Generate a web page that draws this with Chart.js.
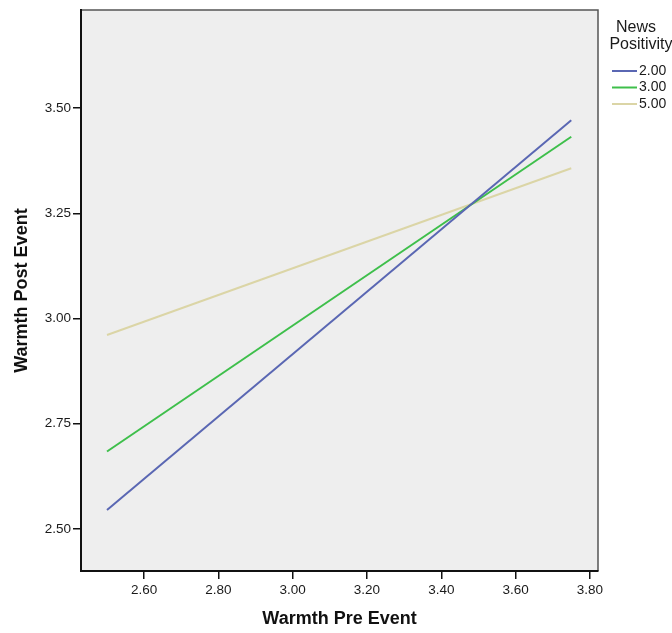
<!DOCTYPE html>
<html>
<head>
<meta charset="utf-8">
<script src="https://cdn.jsdelivr.net/npm/chart.js@4.4.0/dist/chart.umd.min.js"></script>
<style>
  html, body { margin: 0; padding: 0; background: #fff; }
  #wrap { width: 672px; height: 633px; }
</style>
</head>
<body>
<div id="wrap"><canvas id="chart"></canvas></div>
<script>
// values
const groups = ['2.00', '3.00', '5.00'];
const warmthPre = [2.50, 3.75];
const post200 = [2.545, 3.471];
const post300 = [2.684, 3.432];
const post500 = [2.961, 3.357];
const xTicks = [2.60, 2.80, 3.00, 3.20, 3.40, 3.60, 3.80];
const yTicks = [2.50, 2.75, 3.00, 3.25, 3.50];
const lineColors = ['#5a67b3', '#3ebf4b', '#dbd5a6'];

const FONT = '"Liberation Sans", Arial, sans-serif';

const toPoints = ys => warmthPre.map((x, i) => ({ x: x, y: ys[i] }));

const plotBox = {
  id: 'plotBox',
  beforeDraw(chart) {
    const { ctx, chartArea: a } = chart;
    ctx.save();
    ctx.fillStyle = '#eeeeee';
    ctx.fillRect(a.left, a.top, a.right - a.left, a.bottom - a.top);
    ctx.strokeStyle = '#555';
    ctx.lineWidth = 1.5;
    ctx.beginPath();
    ctx.moveTo(a.left, a.top);
    ctx.lineTo(a.right, a.top);
    ctx.lineTo(a.right, a.bottom);
    ctx.stroke();
    ctx.restore();
  }
};

// SPSS style legend at the right
const sideLegend = {
  id: 'sideLegend',
  afterDraw(chart) {
    const ctx = chart.ctx;
    ctx.save();
    ctx.fillStyle = '#1a1a1a';
    ctx.textBaseline = 'middle';
    ctx.textAlign = 'center';
    ctx.font = '16px ' + FONT;
    ctx.fillText('News', 636, 28);
    ctx.fillText('Positivity', 641, 45);
    ctx.textAlign = 'left';
    ctx.font = '14px ' + FONT;
    chart.data.datasets.forEach((ds, i) => {
      const y = 71 + i * 16.5;
      ctx.strokeStyle = ds.borderColor;
      ctx.lineWidth = 2;
      ctx.beginPath();
      ctx.moveTo(612, y);
      ctx.lineTo(637, y);
      ctx.stroke();
      ctx.fillText(ds.label, 639, y);
    });
    ctx.restore();
  }
};

new Chart(document.getElementById('chart'), {
  type: 'line',
  data: {
    datasets: [
      { label: groups[0], data: toPoints(post200), borderColor: lineColors[0] },
      { label: groups[1], data: toPoints(post300), borderColor: lineColors[1] },
      { label: groups[2], data: toPoints(post500), borderColor: lineColors[2] }
    ]
  },
  options: {
    responsive: true,
    maintainAspectRatio: false,
    animation: false,
    layout: { padding: { top: 10, right: 74, left: 0, bottom: 0 } },
    elements: {
      line: { borderWidth: 2, tension: 0, fill: false },
      point: { radius: 0, hoverRadius: 0 }
    },
    plugins: {
      legend: { display: false },
      tooltip: { enabled: false }
    },
    scales: {
      x: {
        type: 'linear',
        min: 2.43,
        max: 3.822,
        afterBuildTicks: s => { s.ticks = xTicks.map(v => ({ value: v })); },
        afterFit: s => { s.height = 62; },
        grid: { drawOnChartArea: false, drawTicks: true, tickLength: 8, color: '#111', lineWidth: 1.5 },
        border: { display: true, color: '#111', width: 2 },
        ticks: {
          autoSkip: false, maxRotation: 0, padding: 3, color: '#1a1a1a',
          font: { family: FONT, size: 13.5 },
          callback: v => Number(v).toFixed(2)
        },
        title: {
          display: true, text: 'Warmth Pre Event', color: '#111',
          font: { family: FONT, size: 18, weight: 'bold', lineHeight: 1.2 },
          padding: { top: 0, bottom: 3 }
        }
      },
      y: {
        type: 'linear',
        min: 2.40,
        max: 3.733,
        afterBuildTicks: s => { s.ticks = yTicks.map(v => ({ value: v })); },
        afterFit: s => { s.width = 81; },
        grid: { drawOnChartArea: false, drawTicks: true, tickLength: 8, color: '#111', lineWidth: 1.5 },
        border: { display: true, color: '#111', width: 2 },
        ticks: {
          autoSkip: false, padding: 2, color: '#1a1a1a',
          font: { family: FONT, size: 13.5 },
          callback: v => Number(v).toFixed(2)
        },
        title: {
          display: true, text: 'Warmth Post Event', color: '#111',
          font: { family: FONT, size: 18, weight: 'bold', lineHeight: 1.2 },
          padding: { top: 11, bottom: 0 }
        }
      }
    }
  },
  plugins: [plotBox, sideLegend]
});
</script>
</body>
</html>
